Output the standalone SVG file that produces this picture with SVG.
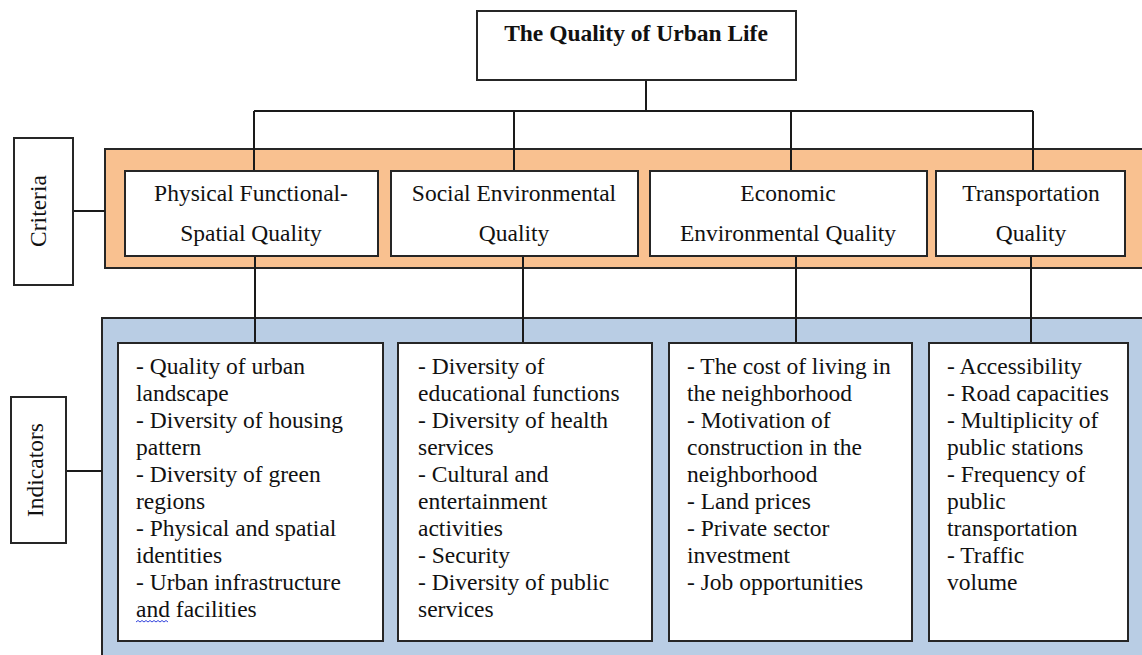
<svg xmlns="http://www.w3.org/2000/svg" width="1142" height="655" viewBox="0 0 1142 655">
  <style>
    .box { fill: #ffffff; stroke: #262626; stroke-width: 2; }
    .band-c { fill: #F9C190; stroke: #262626; stroke-width: 2; }
    .band-i { fill: #B9CDE4; stroke: #262626; stroke-width: 2; }
    .wire { fill: none; stroke: #1a1a1a; stroke-width: 2; }
    text { font-family: 'Liberation Serif', 'DejaVu Serif', serif; font-size: 23.5px; fill: #111111; }
    .title { font-weight: bold; }
    .mid { text-anchor: middle; }
  </style>

  <rect width="1142" height="655" fill="#ffffff"/>

  <!-- background bands -->
  <rect class="band-c" x="105" y="149" width="1045" height="119"/>
  <rect class="band-i" x="102" y="318" width="1048" height="345"/>

  <!-- connectors -->
  <g id="connectors">
    <path class="wire" d="M646 80 V111 M254 111 H1033 M254 111 V171 M514 111 V171 M791 111 V171 M1033 111 V171"/>
    <path class="wire" d="M255 256 V343 M523 256 V343 M796 256 V343 M1031 256 V343"/>
    <path class="wire" d="M73 211 H105 M66 471 H102"/>
  </g>

  <!-- root -->
  <g id="root">
    <rect class="box" x="477" y="11" width="319" height="69"/>
    <text class="title mid" x="636" y="41">The Quality of Urban Life</text>
  </g>

  <!-- side labels -->
  <g id="label-criteria">
    <rect class="box" x="14" y="138" width="59" height="147"/>
    <text class="mid" transform="translate(46 211) rotate(-90)">Criteria</text>
  </g>
  <g id="label-indicators">
    <rect class="box" x="11" y="397" width="55" height="146"/>
    <text class="mid" transform="translate(43 470) rotate(-90)">Indicators</text>
  </g>

  <!-- criteria -->
  <g id="crit-physical">
    <rect class="box" x="125" y="171" width="253" height="85"/>
    <text class="mid" x="251" y="201">Physical Functional-</text>
    <text class="mid" x="251" y="241">Spatial Quality</text>
  </g>
  <g id="crit-social">
    <rect class="box" x="391" y="171" width="247" height="85"/>
    <text class="mid" x="514" y="201">Social Environmental</text>
    <text class="mid" x="514" y="241">Quality</text>
  </g>
  <g id="crit-economic">
    <rect class="box" x="650" y="171" width="277" height="85"/>
    <text class="mid" x="788" y="201">Economic</text>
    <text class="mid" x="788" y="241">Environmental Quality</text>
  </g>
  <g id="crit-transport">
    <rect class="box" x="936" y="171" width="189" height="85"/>
    <text class="mid" x="1031" y="201">Transportation</text>
    <text class="mid" x="1031" y="241">Quality</text>
  </g>

  <!-- indicators -->
  <g id="ind-physical">
    <rect class="box" x="118" y="343" width="265" height="298"/>
    <text x="136" y="374">- Quality of urban</text>
    <text x="136" y="401">landscape</text>
    <text x="136" y="428">- Diversity of housing</text>
    <text x="136" y="455">pattern</text>
    <text x="136" y="482">- Diversity of green</text>
    <text x="136" y="509">regions</text>
    <text x="136" y="536">- Physical and spatial</text>
    <text x="136" y="563">identities</text>
    <text x="136" y="590">- Urban infrastructure</text>
    <text x="136" y="617">and facilities</text>
    <path d="M136 622 l2 -1.5 l2 1.5 l2 -1.5 l2 1.5 l2 -1.5 l2 1.5 l2 -1.5 l2 1.5 l2 -1.5 l2 1.5 l2 -1.5 l2 1.5 l2 -1.5 l2 1.5 l2 -1.5 l2 1.5" fill="none" stroke="#3344dd" stroke-width="1"/>
  </g>
  <g id="ind-social">
    <rect class="box" x="398" y="343" width="254" height="298"/>
    <text x="418" y="374">- Diversity of</text>
    <text x="418" y="401">educational functions</text>
    <text x="418" y="428">- Diversity of health</text>
    <text x="418" y="455">services</text>
    <text x="418" y="482">- Cultural and</text>
    <text x="418" y="509">entertainment</text>
    <text x="418" y="536">activities</text>
    <text x="418" y="563">- Security</text>
    <text x="418" y="590">- Diversity of public</text>
    <text x="418" y="617">services</text>
  </g>
  <g id="ind-economic">
    <rect class="box" x="669" y="343" width="243" height="298"/>
    <text x="687" y="374">- The cost of living in</text>
    <text x="687" y="401">the neighborhood</text>
    <text x="687" y="428">- Motivation of</text>
    <text x="687" y="455">construction in the</text>
    <text x="687" y="482">neighborhood</text>
    <text x="687" y="509">- Land prices</text>
    <text x="687" y="536">- Private sector</text>
    <text x="687" y="563">investment</text>
    <text x="687" y="590">- Job opportunities</text>
  </g>
  <g id="ind-transport">
    <rect class="box" x="929" y="343" width="199" height="298"/>
    <text x="947" y="374">- Accessibility</text>
    <text x="947" y="401">- Road capacities</text>
    <text x="947" y="428">- Multiplicity of</text>
    <text x="947" y="455">public stations</text>
    <text x="947" y="482">- Frequency of</text>
    <text x="947" y="509">public</text>
    <text x="947" y="536">transportation</text>
    <text x="947" y="563">- Traffic</text>
    <text x="947" y="590">volume</text>
  </g>
</svg>
